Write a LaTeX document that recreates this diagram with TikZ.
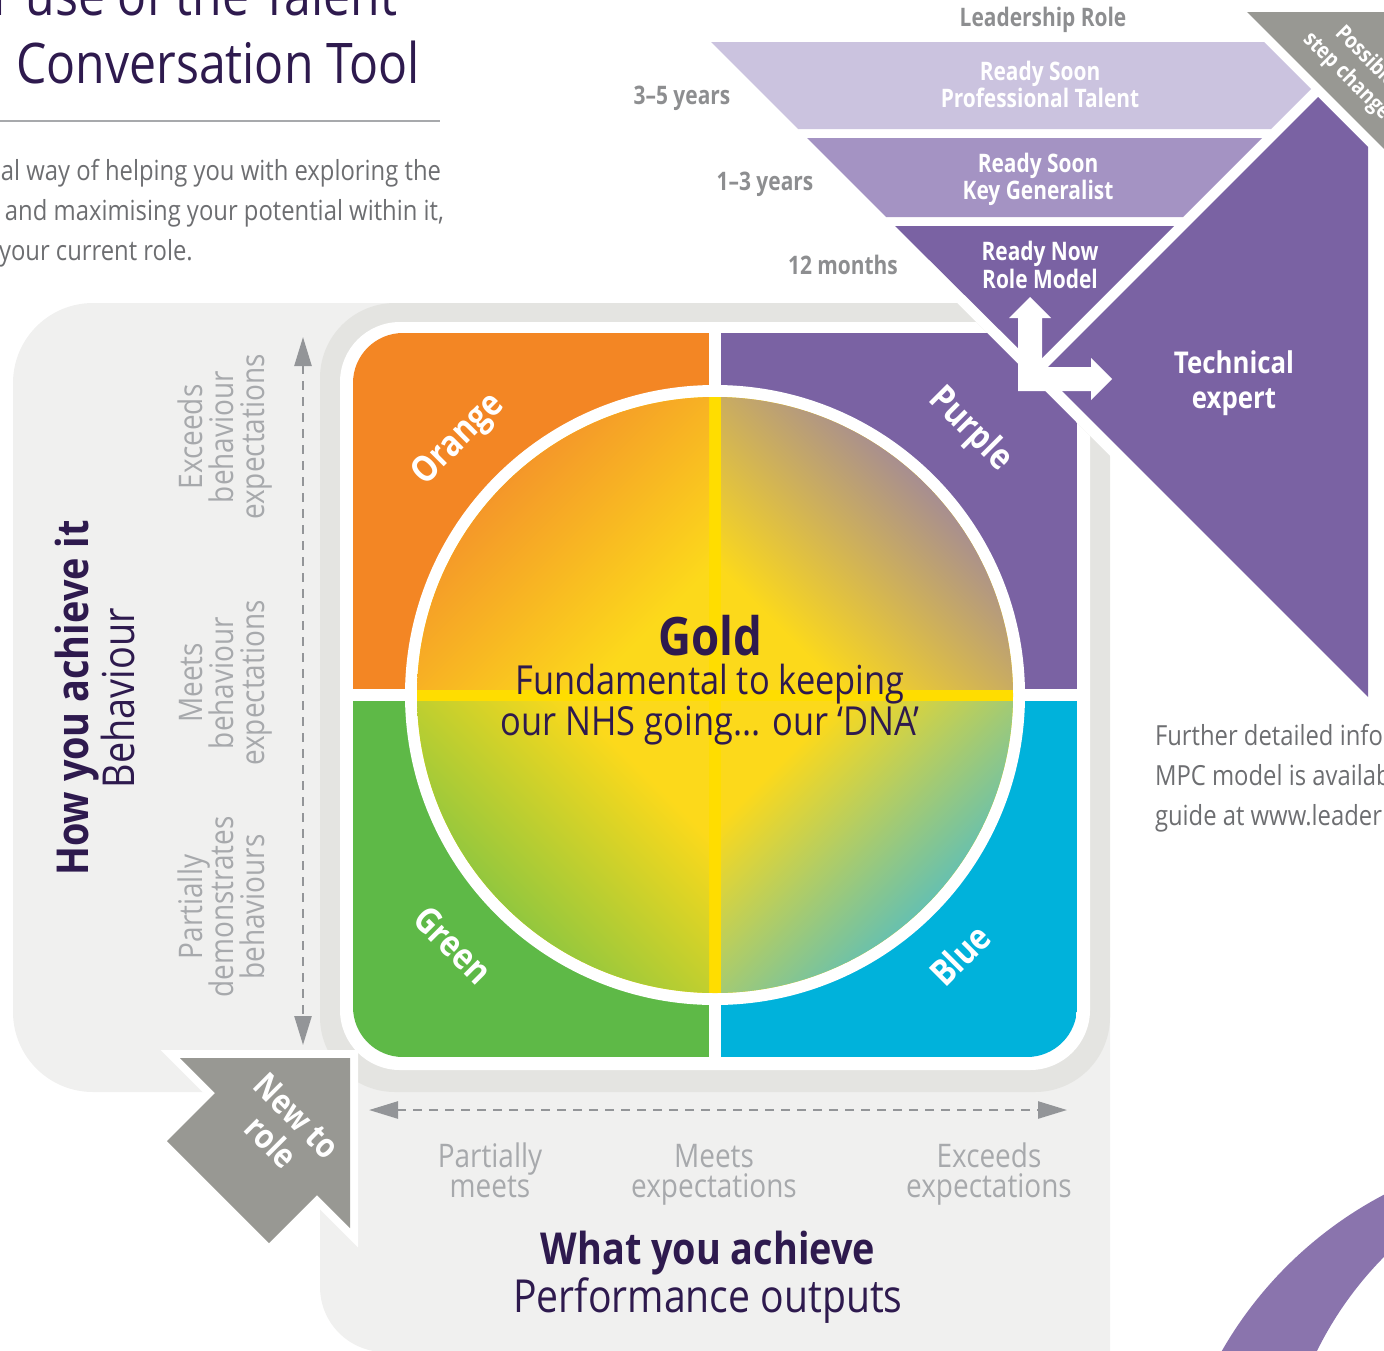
\documentclass[tikz,border=0pt]{standalone}
\usepackage{fontspec}
\setmainfont[FakeStretch=0.86]{Open Sans}
\newfontfamily\condf[FakeStretch=0.82]{Open Sans}
\usetikzlibrary{arrows.meta}
\definecolor{dpurple}{HTML}{2E1A4E}
\definecolor{qorange}{HTML}{F38624}
\definecolor{qpurple}{HTML}{7A62A3}
\definecolor{qgreen}{HTML}{5EB947}
\definecolor{qblue}{HTML}{00B2DB}
\definecolor{gold}{HTML}{FCD91B}
\definecolor{goldband}{HTML}{FFDD00}
\definecolor{cTL}{HTML}{F4942A}
\definecolor{cTR}{HTML}{A38A96}
\definecolor{cBL}{HTML}{8DC640}
\definecolor{cBR}{HTML}{5FBFB7}
\definecolor{panel}{HTML}{F0F0EF}
\definecolor{ring}{HTML}{E4E4E1}
\definecolor{band1}{HTML}{CBC3DF}
\definecolor{band2}{HTML}{A493C3}
\definecolor{stepgray}{HTML}{989893}
\definecolor{txtgray}{HTML}{6D6E71}
\definecolor{lblgray}{HTML}{A7A9AC}
\definecolor{fungray}{HTML}{8D8E90}
\definecolor{arcpurple}{HTML}{8A74AD}
\definecolor{axisgray}{HTML}{939598}
\definecolor{rulegray}{HTML}{A7A9AC}
\pgfdeclarehorizontalshading{shTL}{100bp}{color(0bp)=(gold); color(29bp)=(gold); color(66bp)=(cTL); color(100bp)=(cTL)}
\pgfdeclarehorizontalshading{shTR}{100bp}{color(0bp)=(gold); color(29bp)=(gold); color(66bp)=(cTR); color(100bp)=(cTR)}
\pgfdeclarehorizontalshading{shBL}{100bp}{color(0bp)=(gold); color(31bp)=(gold); color(66bp)=(cBL); color(100bp)=(cBL)}
\pgfdeclarehorizontalshading{shBR}{100bp}{color(0bp)=(gold); color(29bp)=(gold); color(66bp)=(cBR); color(100bp)=(cBR)}
\newcommand\myfs[2]{\fontsize{#1}{#2}\selectfont}
\tikzset{
  funw/.style={font=\condf\bfseries\myfs{25.5}{27}, text=white, anchor=base},
  fung/.style={font=\condf\bfseries\myfs{25.5}{27}, text=fungray, anchor=base},
  axl/.style={font=\myfs{32.5}{32}, text=lblgray, anchor=base},
  axlv/.style={axl, rotate=90},
  qlab/.style={font=\bfseries\myfs{36}{40}, text=white, anchor=center},
  bodytxt/.style={font=\myfs{27.7}{40}, text=txtgray, anchor=base west},
  axisarrow/.style={axisgray, line width=2.5pt, dash pattern=on 9pt off 7pt,
    {Triangle[length=29pt,width=17pt]}-{Triangle[length=29pt,width=17pt]}},
}
\begin{document}
\begin{tikzpicture}[x=1pt,y=-1pt, every node/.style={inner sep=0pt, outer sep=0pt}]
\useasboundingbox (0,0) rectangle (1384,1350);

% ---- title block
\node[font=\myfs{56}{60}, text=dpurple, anchor=base east] (title1) at (397,15) {r use of the Talent};
\node[font=\myfs{56}{60}, text=dpurple, anchor=base] (title2) at (218,83) {Conversation Tool};
\coordinate (ruleL) at (0,121); \coordinate (ruleR) at (440,121);
\draw[rulegray, line width=2.5pt] (ruleL) -- (ruleR);
\node[bodytxt] (body1) at (1,180) {al way of helping you with exploring the};
\node[bodytxt] (body2) at (5,220) {and maximising your potential within it,};
\node[bodytxt] (body3) at (-1,260) {your current role.};

% ---- panels
\fill[panel, rounded corners=80pt] (13,303) rectangle (500,1092);
\fill[panel] (320,1000) -- (1110,1000) -- (1110,1352) [rounded corners=65pt] -- (320,1352) [sharp corners] -- (320,1000) -- cycle;

% ---- central block clipped by the diagonal
\begin{scope}
  \clip (0,-100) -- (554,-100) -- (1754,1100) -- (1754,1500) -- (0,1500) -- cycle;
  \fill[ring, rounded corners=75pt] (320,303) rectangle (1110,1092);
  \fill[white, rounded corners=60pt] (340,322) rectangle (1090,1070);
  \begin{scope}
    \clip[rounded corners=50pt] (353,333) rectangle (1077,1057);
    \fill[qorange] (353,333) rectangle (709,689);
    \fill[qpurple] (721,333) rectangle (1077,689);
    \fill[qgreen] (353,701) rectangle (709,1057);
    \fill[qblue] (721,701) rectangle (1077,1057);
  \end{scope}
\end{scope}

% ---- gold circle
\fill[white] (715,695) circle[radius=310pt];
\fill[goldband] (715,695) circle[radius=298pt];
\begin{scope}
  \clip (715,695) circle[radius=298pt];
  \shade[shading=shTL, shading angle=135] (417,397) rectangle (709,689);
  \shade[shading=shTR, shading angle=45] (721,397) rectangle (1013,689);
  \shade[shading=shBL, shading angle=225] (417,701) rectangle (709,993);
  \shade[shading=shBR, shading angle=315] (721,701) rectangle (1013,993);
\end{scope}
\node[font=\bfseries\myfs{53}{56}, text=dpurple, anchor=base] (gold) at (710,655) {Gold};
\node[font=\myfs{40}{41}, text=dpurple, anchor=base] (gold2) at (710,694) {Fundamental to keeping};
\node[font=\myfs{40}{41}, text=dpurple, anchor=base] (gold3) at (710,735) {our NHS going... our ‘DNA’};

% ---- quadrant labels
\node[qlab, rotate=45] (lorange) at (459,440) {Orange};
\node[qlab, rotate=-45] (lpurple) at (970,430) {Purple};
\node[qlab, rotate=-45] (lgreen) at (453,945) {Green};
\node[qlab, rotate=45] (lblue) at (960,955) {Blue};

% ---- funnel
\fill[band1] (711,42) -- (1264,42) -- (1311,89) -- (1271,129) -- (798,129) -- cycle;
\fill[band2] (807,138) -- (1262,138) -- (1183,217) -- (886,217) -- cycle;
\fill[qpurple] (895,226) -- (1174,226) -- (1035,365) -- cycle;
\fill[qpurple] (1043,372) -- (1318,97) -- (1368,147) -- (1368,697) -- cycle;
\fill[stepgray] (1247,12) -- (1400,12) -- (1400,165) -- cycle;
\fill[white] (1018,391) -- (1018,318) -- (1009,318) -- (1030,297) -- (1051,318) -- (1042,318)
  -- (1042,367) -- (1091,367) -- (1091,358) -- (1112,379) -- (1091,400) -- (1091,391) -- cycle;

\node[fung] (lead) at (1043,26) {Leadership Role};
\node[funw] (b1a) at (1040,80) {Ready Soon};
\node[funw] (b1b) at (1040,107) {Professional Talent};
\node[funw] (b2a) at (1038,172) {Ready Soon};
\node[funw] (b2b) at (1038,199) {Key Generalist};
\node[funw] (b3a) at (1040,260) {Ready Now};
\node[funw] (b3b) at (1040,288) {Role Model};
\node[fung] (t35) at (682,104) {3–5 years};
\node[fung] (t13) at (765,190) {1–3 years};
\node[fung] (t12) at (843,274) {12 months};
\node[font=\bfseries\myfs{30}{35}, text=white, anchor=base] (tech1) at (1234,373) {Technical};
\node[font=\bfseries\myfs{30}{35}, text=white, anchor=base] (tech2) at (1234,408) {expert};
\node[font=\bfseries\myfs{22}{27}, text=white, rotate=-45, align=center] (step) at (1356,67) {Possible\\step change};

% ---- left axis
\node[font=\bfseries\myfs{44}{48}, text=dpurple, rotate=90, anchor=base] (how) at (88,698) {How you achieve it};
\node[font=\myfs{44}{48}, text=dpurple, rotate=90, anchor=base] (beh) at (134,698) {Behaviour};
\node[axlv] (e1) at (202,437) {Exceeds};
\node[axlv] (e2) at (233,437) {behaviour};
\node[axlv] (e3) at (264,437) {expectations};
\node[axlv] (m1) at (202,683) {Meets};
\node[axlv] (m2) at (233,683) {behaviour};
\node[axlv] (m3) at (264,683) {expectations};
\node[axlv] (p1) at (202,907) {Partially};
\node[axlv] (p2) at (233,907) {demonstrates};
\node[axlv] (p3) at (264,907) {behaviours};
\coordinate (vtop) at (303,337); \coordinate (vbot) at (303,1045);
\draw[axisarrow] (vtop) -- (vbot);

% ---- bottom axis
\coordinate (hl) at (369,1110); \coordinate (hr) at (1067,1110);
\draw[axisarrow] (hl) -- (hr);
\node[axl] (bp1) at (490,1167) {Partially};
\node[axl] (bp2) at (490,1197) {meets};
\node[axl] (bm1) at (714,1167) {Meets};
\node[axl] (bm2) at (714,1197) {expectations};
\node[axl] (be1) at (989,1167) {Exceeds};
\node[axl] (be2) at (989,1197) {expectations};
\node[font=\bfseries\myfs{44}{48}, text=dpurple, anchor=base] (what) at (708,1264) {What you achieve};
\node[font=\myfs{45.5}{48}, text=dpurple, anchor=base] (perf) at (708,1312) {Performance outputs};

% ---- new to role
\draw[white, line width=16pt, line join=miter, miter limit=10] (180,1058) -- (350,1058) -- (350,1228) -- (317,1195) -- (269,1243) -- (167,1141) -- (215,1093) -- cycle;
\fill[stepgray] (180,1058) -- (350,1058) -- (350,1228) -- (317,1195) -- (269,1243) -- (167,1141) -- (215,1093) -- cycle;
\node[font=\bfseries\myfs{34}{37}, text=white, rotate=-45, align=center] (newrole) at (284,1129) {New to\\role};

% ---- right text and arc
\node[bodytxt] (fur1) at (1155,745) {Further detailed infor};
\node[bodytxt] (fur2) at (1155,785) {MPC model is availab};
\node[bodytxt] (fur3) at (1155,825) {guide at www.leader};
\fill[arcpurple, even odd rule] (1570,1550) circle[radius=401pt] (1640,1510) circle[radius=360pt];
\end{tikzpicture}
\end{document}
